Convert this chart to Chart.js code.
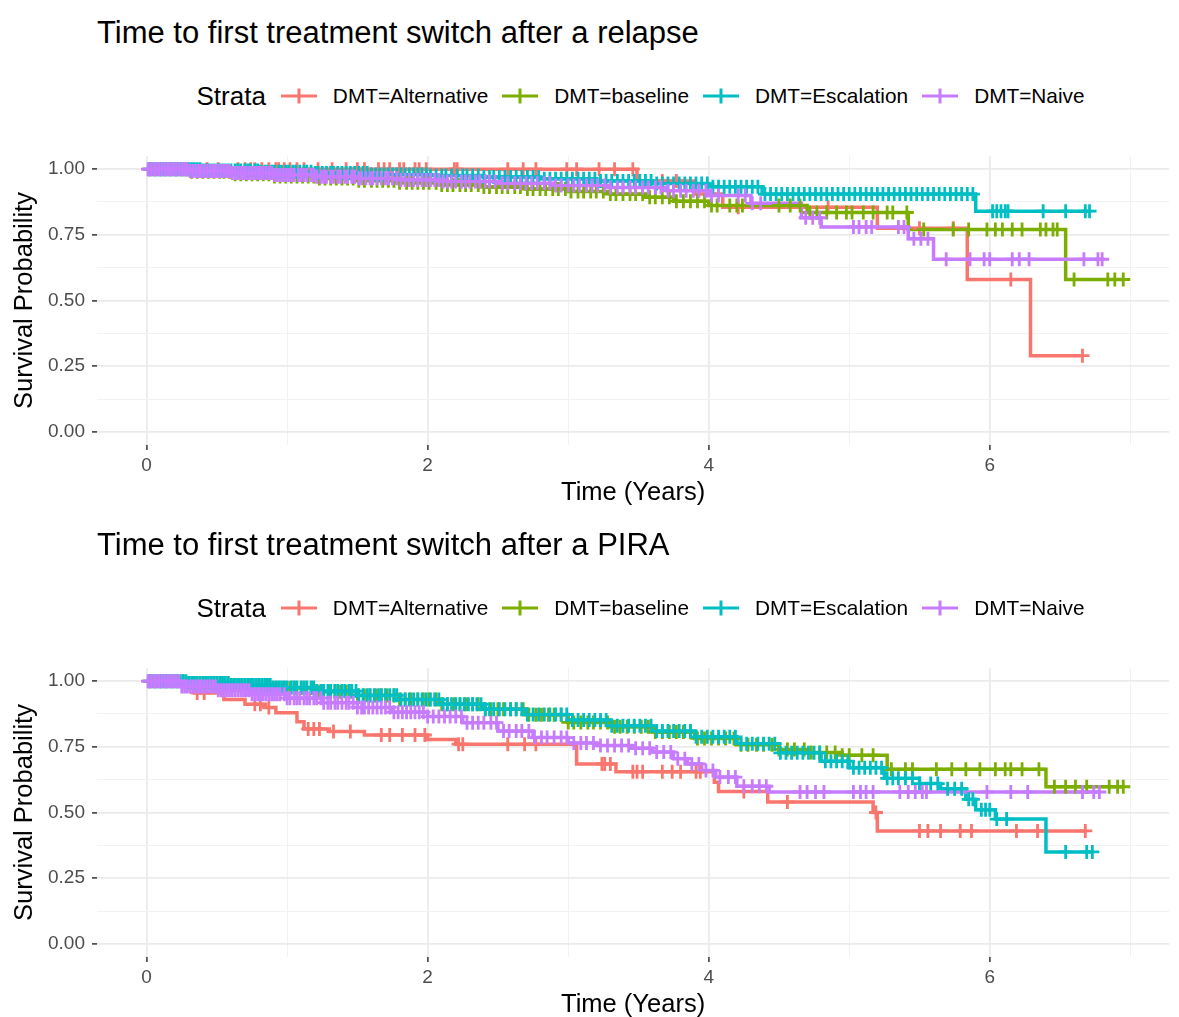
<!DOCTYPE html>
<html>
<head>
<meta charset="utf-8">
<title>Time to first treatment switch</title>
<script src="https://cdn.jsdelivr.net/npm/chart.js@4.4.1/dist/chart.umd.min.js"></script>
<style>
  body { margin: 0; background: #fff; font-family: "Liberation Sans", Arial, sans-serif; overflow: hidden; }
  .block { position: relative; width: 1179px; height: 512px; }
  .block canvas.plot { position: absolute; left: 0; top: 0; }
  .title { position: absolute; left: 97px; top: 17px; font-size: 31px; line-height: 31px; color: #000; white-space: nowrap; }
  .legend { position: absolute; left: 100px; width: 1081px; top: 80px; height: 32px; display: flex; justify-content: center; align-items: center; }
  .legend .lt { font-size: 26px; margin-right: 15px; color: #000; }
  .legend .sym { width: 36px; height: 20px; margin-right: 16px; }
  .legend .lab { font-size: 20.8px; margin-right: 14px; color: #000; white-space: nowrap; }
  .legend .lab:last-child { margin-right: 0; }
</style>
</head>
<body>
<div class="block">
  <div class="title">Time to first treatment switch after a relapse</div>
  <div class="legend" id="legend1"></div>
  <canvas class="plot" id="relapseChart" width="1179" height="512"></canvas>
</div>
<div class="block">
  <div class="title">Time to first treatment switch after a PIRA</div>
  <div class="legend" id="legend2"></div>
  <canvas class="plot" id="piraChart" width="1179" height="512"></canvas>
</div>
<script>
// strata and colours
const strata = ['DMT=Alternative', 'DMT=baseline', 'DMT=Escalation', 'DMT=Naive'];
const colors = ['#F8766D', '#7CAE00', '#00BFC4', '#C77CFF'];

// axis ticks
const xTicks = [0, 1, 2, 3, 4, 5, 6, 7];
const xTickLabels = ['0', '', '2', '', '4', '', '6', ''];
const yTicks = [0, 0.125, 0.25, 0.375, 0.5, 0.625, 0.75, 0.875, 1];
const yTickLabels = ['0.00', '', '0.25', '', '0.50', '', '0.75', '', '1.00'];

// ---- relapse: step times / survival, censor times ----
const relapseAltTime = [0, 3.49, 3.9, 4.1, 5.2, 5.84, 6.29, 6.66];
const relapseAltSurv = [1.0, 0.955, 0.905, 0.855, 0.775, 0.58, 0.29, 0.29];
const relapseAltCens = [0.21, 0.28, 0.43, 0.51, 0.65, 0.70, 0.74, 0.77, 0.82, 0.87, 0.92, 0.94, 0.98, 1.02, 1.07, 1.12, 1.22, 1.32, 1.42, 1.50, 1.55, 1.65, 1.69, 1.73, 1.80, 1.83, 1.91, 1.94, 1.99, 2.19, 2.21, 2.57, 2.68, 2.77, 2.99, 3.06, 3.22, 3.33, 3.46, 3.67, 3.77, 4.21, 4.85, 5.5, 5.74, 6.15, 6.66];

const relapseBaseTime = [0, 0.3, 0.6, 0.9, 1.2, 1.5, 1.8, 2.1, 2.4, 2.7, 3.0, 3.3, 3.55, 3.75, 4.0, 4.7, 5.42, 6.54, 6.95];
const relapseBaseSurv = [1.0, 0.99, 0.981, 0.972, 0.964, 0.956, 0.948, 0.94, 0.932, 0.924, 0.915, 0.905, 0.893, 0.878, 0.862, 0.835, 0.77, 0.58, 0.58];
const relapseBaseCens = [0.02, 0.06, 0.1, 0.13, 0.17, 0.21, 0.25, 0.29, 0.32, 0.36, 0.4, 0.44, 0.48, 0.52, 0.55, 0.59, 0.63, 0.67, 0.71, 0.75, 0.79, 0.83, 0.87, 0.91, 0.95, 0.99, 1.03, 1.07, 1.11, 1.15, 1.19, 1.23, 1.27, 1.31, 1.35, 1.39, 1.43, 1.47, 1.51, 1.55, 1.6, 1.64, 1.68, 1.72, 1.76, 1.8, 1.85, 1.89, 1.93, 1.97, 2.01, 2.06, 2.1, 2.14, 2.18, 2.23, 2.27, 2.31, 2.36, 2.4, 2.44, 2.49, 2.53, 2.57, 2.62, 2.66, 2.71, 2.75, 2.8, 2.84, 2.89, 2.93, 2.98, 3.02, 3.07, 3.11, 3.16, 3.2, 3.25, 3.3, 3.34, 3.39, 3.44, 3.48, 3.53, 3.58, 3.62, 3.67, 3.72, 3.77, 3.82, 3.87, 3.92, 3.97, 4.02, 4.06, 4.15, 4.2, 4.24, 4.5, 4.58, 4.65, 4.72, 4.77, 4.84, 4.91, 4.98, 5.02, 5.1, 5.17, 5.27, 5.31, 5.41, 5.53, 5.74, 5.85, 5.98, 6.04, 6.09, 6.16, 6.23, 6.36, 6.40, 6.45, 6.48, 6.60, 6.84, 6.89, 6.95];

const relapseEscTime = [0, 0.4, 0.8, 1.2, 1.6, 2.0, 2.4, 2.8, 3.2, 3.6, 4.0, 4.38, 5.9, 6.71];
const relapseEscSurv = [1.0, 0.995, 0.99, 0.985, 0.98, 0.976, 0.97, 0.963, 0.955, 0.945, 0.933, 0.905, 0.84, 0.84];
const relapseEscCens = [0.02, 0.04, 0.06, 0.08, 0.1, 0.12, 0.14, 0.16, 0.18, 0.2, 0.22, 0.24, 0.26, 0.28, 0.3, 0.32, 0.34, 0.36, 0.38, 0.4, 0.42, 0.44, 0.46, 0.48, 0.5, 0.52, 0.54, 0.56, 0.58, 0.6, 0.63, 0.65, 0.67, 0.7, 0.72, 0.74, 0.77, 0.79, 0.81, 0.84, 0.86, 0.89, 0.91, 0.94, 0.96, 0.99, 1.01, 1.04, 1.06, 1.09, 1.12, 1.14, 1.17, 1.2, 1.22, 1.25, 1.28, 1.31, 1.33, 1.36, 1.39, 1.42, 1.45, 1.48, 1.51, 1.54, 1.57, 1.6, 1.63, 1.66, 1.69, 1.72, 1.75, 1.78, 1.81, 1.84, 1.87, 1.9, 1.93, 1.96, 1.99, 2.02, 2.06, 2.1, 2.13, 2.17, 2.21, 2.25, 2.28, 2.32, 2.36, 2.4, 2.44, 2.47, 2.51, 2.55, 2.59, 2.63, 2.67, 2.71, 2.75, 2.79, 2.83, 2.87, 2.91, 2.95, 2.99, 3.03, 3.07, 3.11, 3.15, 3.19, 3.23, 3.27, 3.31, 3.35, 3.39, 3.43, 3.47, 3.51, 3.55, 3.59, 3.63, 3.67, 3.71, 3.75, 3.79, 3.83, 3.87, 3.91, 3.95, 3.99, 4.03, 4.07, 4.11, 4.15, 4.19, 4.23, 4.27, 4.31, 4.35, 4.4, 4.44, 4.48, 4.52, 4.56, 4.6, 4.64, 4.68, 4.72, 4.76, 4.8, 4.84, 4.88, 4.92, 4.96, 5.0, 5.04, 5.08, 5.12, 5.16, 5.2, 5.24, 5.28, 5.32, 5.36, 5.4, 5.44, 5.48, 5.52, 5.56, 5.6, 5.64, 5.68, 5.72, 5.76, 5.8, 5.84, 5.88, 6.02, 6.05, 6.08, 6.11, 6.13, 6.38, 6.54, 6.68, 6.71];

const relapseNaiveTime = [0, 0.3, 0.6, 0.9, 1.2, 1.5, 1.8, 2.1, 2.5, 2.9, 3.3, 3.7, 4.0, 4.3, 4.66, 4.8, 5.42, 5.6, 6.8];
const relapseNaiveSurv = [1.0, 0.993, 0.985, 0.978, 0.971, 0.965, 0.959, 0.953, 0.946, 0.938, 0.93, 0.918, 0.9, 0.87, 0.815, 0.78, 0.735, 0.657, 0.657];
const relapseNaiveCens = [0.01, 0.03, 0.05, 0.07, 0.09, 0.11, 0.13, 0.15, 0.17, 0.19, 0.21, 0.23, 0.25, 0.27, 0.29, 0.31, 0.33, 0.35, 0.37, 0.39, 0.41, 0.43, 0.45, 0.47, 0.49, 0.51, 0.53, 0.55, 0.57, 0.59, 0.61, 0.63, 0.65, 0.67, 0.69, 0.71, 0.73, 0.75, 0.77, 0.79, 0.81, 0.83, 0.85, 0.87, 0.89, 0.91, 0.93, 0.95, 0.97, 0.99, 1.01, 1.03, 1.05, 1.08, 1.1, 1.12, 1.14, 1.17, 1.19, 1.21, 1.24, 1.26, 1.28, 1.31, 1.33, 1.36, 1.38, 1.41, 1.43, 1.46, 1.48, 1.51, 1.53, 1.56, 1.59, 1.61, 1.64, 1.67, 1.7, 1.72, 1.75, 1.78, 1.81, 1.84, 1.87, 1.9, 1.93, 1.96, 1.99, 2.02, 2.05, 2.08, 2.11, 2.14, 2.17, 2.2, 2.24, 2.27, 2.3, 2.34, 2.37, 2.41, 2.44, 2.48, 2.53, 2.57, 2.62, 2.66, 2.7, 2.74, 2.78, 2.83, 2.87, 2.91, 2.95, 3.0, 3.04, 3.08, 3.13, 3.17, 3.21, 3.26, 3.3, 3.35, 3.39, 3.44, 3.48, 3.53, 3.57, 3.62, 3.66, 3.71, 3.75, 3.8, 3.84, 3.89, 3.93, 3.98, 4.02, 4.07, 4.21, 4.26, 4.31, 4.37, 4.69, 4.74, 4.79, 5.03, 5.07, 5.12, 5.16, 5.35, 5.39, 5.46, 5.51, 5.56, 5.69, 5.86, 5.96, 6.0, 6.16, 6.21, 6.28, 6.67, 6.77, 6.8];

// ---- PIRA: step times / survival, censor times ----
const piraAltTime = [0, 0.2, 0.34, 0.55, 0.7, 0.84, 0.92, 1.07, 1.12, 1.3, 1.55, 2.0, 2.2, 3.06, 3.34, 4.04, 4.07, 4.42, 5.17, 5.2, 6.68];
const piraAltSurv = [1.0, 0.985, 0.955, 0.93, 0.912, 0.9, 0.88, 0.845, 0.818, 0.808, 0.795, 0.778, 0.76, 0.685, 0.655, 0.615, 0.58, 0.54, 0.5, 0.43, 0.43];
const piraAltCens = [0.36, 0.41, 0.77, 0.81, 0.87, 1.15, 1.19, 1.23, 1.33, 1.45, 1.67, 1.73, 1.82, 1.91, 1.98, 2.22, 2.25, 2.57, 2.69, 2.77, 3.24, 3.26, 3.3, 3.46, 3.49, 3.53, 3.67, 3.74, 3.8, 3.91, 3.94, 4.25, 4.56, 5.19, 5.5, 5.56, 5.65, 5.79, 5.87, 6.19, 6.34, 6.68];

const piraBaseTime = [0, 0.3, 0.6, 0.9, 1.2, 1.5, 1.8, 2.1, 2.4, 2.7, 3.0, 3.3, 3.6, 3.9, 4.2, 4.5, 4.7, 4.95, 5.27, 6.4, 6.95];
const piraBaseSurv = [1.0, 0.992, 0.983, 0.974, 0.96, 0.945, 0.93, 0.912, 0.893, 0.872, 0.843, 0.826, 0.806, 0.782, 0.758, 0.74, 0.728, 0.718, 0.665, 0.598, 0.598];
const piraBaseCens = [0.02, 0.06, 0.1, 0.14, 0.18, 0.22, 0.26, 0.3, 0.34, 0.38, 0.42, 0.46, 0.5, 0.54, 0.58, 0.62, 0.66, 0.7, 0.74, 0.78, 0.82, 0.86, 0.9, 0.94, 0.98, 1.02, 1.06, 1.1, 1.14, 1.18, 1.22, 1.26, 1.3, 1.34, 1.38, 1.42, 1.46, 1.5, 1.55, 1.59, 1.63, 1.67, 1.71, 1.76, 1.8, 1.84, 1.88, 1.93, 1.97, 2.01, 2.06, 2.1, 2.14, 2.19, 2.23, 2.27, 2.32, 2.36, 2.41, 2.45, 2.5, 2.54, 2.59, 2.63, 2.68, 2.72, 2.77, 2.81, 2.86, 2.9, 2.95, 3.0, 3.04, 3.09, 3.14, 3.18, 3.23, 3.28, 3.33, 3.37, 3.42, 3.47, 3.52, 3.57, 3.62, 3.67, 3.72, 3.77, 3.82, 3.87, 3.92, 3.97, 4.02, 4.07, 4.12, 4.18, 4.23, 4.28, 4.34, 4.39, 4.45, 4.5, 4.56, 4.61, 4.68, 4.73, 4.79, 4.84, 4.9, 4.95, 5.0, 5.09, 5.17, 5.3, 5.4, 5.45, 5.62, 5.73, 5.83, 5.93, 6.04, 6.11, 6.15, 6.23, 6.35, 6.46, 6.54, 6.61, 6.69, 6.85, 6.91, 6.95];

const piraEscTime = [0, 0.3, 0.6, 0.9, 1.2, 1.5, 1.8, 2.1, 2.4, 2.7, 3.0, 3.3, 3.6, 3.9, 4.2, 4.5, 4.8, 5.0, 5.25, 5.5, 5.65, 5.83, 5.9, 6.04, 6.4, 6.73];
const piraEscSurv = [1.0, 0.993, 0.985, 0.976, 0.962, 0.946, 0.93, 0.912, 0.893, 0.873, 0.852, 0.83, 0.81, 0.788, 0.762, 0.727, 0.695, 0.67, 0.63, 0.61, 0.59, 0.55, 0.51, 0.475, 0.35, 0.35];
const piraEscCens = [0.02, 0.04, 0.06, 0.08, 0.1, 0.12, 0.14, 0.16, 0.18, 0.2, 0.22, 0.24, 0.26, 0.28, 0.3, 0.32, 0.34, 0.36, 0.38, 0.4, 0.42, 0.44, 0.46, 0.48, 0.5, 0.52, 0.54, 0.56, 0.58, 0.6, 0.62, 0.64, 0.66, 0.68, 0.7, 0.72, 0.74, 0.76, 0.78, 0.8, 0.82, 0.84, 0.86, 0.88, 0.9, 0.92, 0.94, 0.96, 0.98, 1.0, 1.03, 1.05, 1.07, 1.1, 1.12, 1.14, 1.17, 1.19, 1.21, 1.24, 1.26, 1.29, 1.31, 1.34, 1.36, 1.39, 1.41, 1.44, 1.46, 1.49, 1.51, 1.54, 1.57, 1.59, 1.62, 1.65, 1.67, 1.7, 1.73, 1.76, 1.78, 1.81, 1.84, 1.87, 1.9, 1.93, 1.96, 1.99, 2.02, 2.05, 2.08, 2.11, 2.14, 2.17, 2.2, 2.23, 2.26, 2.29, 2.32, 2.35, 2.38, 2.41, 2.44, 2.47, 2.51, 2.55, 2.59, 2.63, 2.67, 2.71, 2.75, 2.79, 2.83, 2.87, 2.91, 2.95, 2.99, 3.03, 3.07, 3.11, 3.15, 3.19, 3.23, 3.27, 3.31, 3.35, 3.39, 3.43, 3.47, 3.51, 3.55, 3.59, 3.63, 3.67, 3.71, 3.75, 3.79, 3.83, 3.87, 3.91, 3.95, 3.99, 4.03, 4.07, 4.11, 4.15, 4.19, 4.23, 4.27, 4.31, 4.35, 4.39, 4.43, 4.47, 4.51, 4.55, 4.59, 4.63, 4.67, 4.71, 4.75, 4.79, 4.83, 4.87, 4.91, 4.95, 4.99, 5.03, 5.07, 5.11, 5.15, 5.19, 5.23, 5.27, 5.31, 5.35, 5.4, 5.45, 5.5, 5.58, 5.63, 5.7, 5.75, 5.8, 5.85, 5.88, 5.94, 5.97, 6.0, 6.05, 6.12, 6.54, 6.69, 6.73];

const piraNaiveTime = [0, 0.25, 0.5, 0.75, 1.0, 1.25, 1.5, 1.75, 2.0, 2.25, 2.5, 2.75, 3.0, 3.2, 3.45, 3.6, 3.75, 3.85, 3.95, 4.05, 4.2, 4.43, 6.78];
const piraNaiveSurv = [1.0, 0.98, 0.965, 0.95, 0.935, 0.918, 0.9, 0.882, 0.865, 0.842, 0.81, 0.785, 0.765, 0.755, 0.745, 0.73, 0.705, 0.685, 0.66, 0.635, 0.6, 0.578, 0.578];
const piraNaiveCens = [0.01, 0.03, 0.05, 0.07, 0.09, 0.11, 0.13, 0.15, 0.17, 0.19, 0.21, 0.23, 0.25, 0.27, 0.29, 0.31, 0.33, 0.35, 0.37, 0.39, 0.41, 0.43, 0.45, 0.47, 0.49, 0.51, 0.53, 0.55, 0.57, 0.59, 0.61, 0.63, 0.65, 0.67, 0.69, 0.71, 0.73, 0.75, 0.77, 0.79, 0.81, 0.83, 0.85, 0.87, 0.89, 0.91, 0.93, 0.95, 0.98, 1.0, 1.02, 1.05, 1.07, 1.09, 1.12, 1.14, 1.16, 1.19, 1.21, 1.24, 1.26, 1.29, 1.31, 1.34, 1.36, 1.39, 1.42, 1.44, 1.47, 1.5, 1.53, 1.55, 1.58, 1.61, 1.64, 1.67, 1.7, 1.73, 1.76, 1.79, 1.82, 1.85, 1.88, 1.91, 1.94, 1.97, 2.0, 2.04, 2.08, 2.12, 2.16, 2.2, 2.24, 2.28, 2.32, 2.36, 2.4, 2.45, 2.49, 2.54, 2.58, 2.63, 2.67, 2.72, 2.76, 2.81, 2.85, 2.9, 2.95, 2.99, 3.04, 3.09, 3.13, 3.18, 3.23, 3.28, 3.33, 3.38, 3.43, 3.48, 3.53, 3.58, 3.63, 3.68, 3.73, 3.78, 3.83, 3.88, 3.93, 3.98, 4.03, 4.08, 4.14, 4.19, 4.25, 4.31, 4.36, 4.41, 4.65, 4.7, 4.76, 4.82, 5.03, 5.08, 5.12, 5.17, 5.36, 5.42, 5.47, 5.52, 5.55, 5.98, 6.15, 6.27, 6.66, 6.74, 6.78];

// survival at time x from a step curve (event before censoring at same time)
function survivalAt(times, surv, x) {
    let v = surv[0];
    for (let i = 0; i < times.length; i++) {
        if (times[i] <= x) v = surv[i];
    }
    return v;
}

function buildLegend(id) {
    const box = document.getElementById(id);
    const lt = document.createElement('span');
    lt.className = 'lt';
    lt.textContent = 'Strata';
    box.appendChild(lt);
    strata.forEach((name, i) => {
        const c = document.createElement('canvas');
        c.className = 'sym';
        c.width = 36; c.height = 20;
        const g = c.getContext('2d');
        g.strokeStyle = colors[i];
        g.lineWidth = 3;
        g.beginPath();
        g.moveTo(0, 10); g.lineTo(36, 10);
        g.moveTo(18, 2.5); g.lineTo(18, 17.5);
        g.stroke();
        box.appendChild(c);
        const lab = document.createElement('span');
        lab.className = 'lab';
        lab.textContent = name;
        box.appendChild(lab);
    });
}

function makeChart(canvasId, times, survs, cens) {
    const datasets = [];
    strata.forEach((name, i) => {
        datasets.push({
            label: name,
            data: times[i].map((t, j) => ({ x: t, y: survs[i][j] })),
            borderColor: colors[i],
            borderWidth: 3.5,
            pointRadius: 0,
            stepped: 'before',
            fill: false,
            order: 8 - i
        });
    });
    strata.forEach((name, i) => {
        datasets.push({
            label: name + ' (censored)',
            data: cens[i].map(t => ({ x: t, y: survivalAt(times[i], survs[i], t) })),
            showLine: false,
            pointStyle: 'cross',
            pointRadius: 7,
            pointHoverRadius: 7,
            pointBorderWidth: 2.8,
            borderColor: colors[i],
            backgroundColor: colors[i],
            order: 4 - i
        });
    });

    const isMajorX = ctx => xTickLabels[ctx.index] !== '';
    const isMajorY = ctx => yTickLabels[ctx.index] !== '';

    return new Chart(document.getElementById(canvasId).getContext('2d'), {
        type: 'line',
        data: { datasets: datasets },
        options: {
            responsive: false,
            animation: false,
            events: [],
            layout: { padding: { top: 156, right: 1, left: 0, bottom: 0 } },
            plugins: { legend: { display: false }, tooltip: { enabled: false }, title: { display: false } },
            scales: {
                x: {
                    type: 'linear',
                    min: -0.353,
                    max: 7.277,
                    afterBuildTicks: s => { s.ticks = xTicks.map(v => ({ value: v })); },
                    afterFit: s => { s.height = 67; },
                    ticks: {
                        callback: (v, i) => xTickLabels[i],
                        color: '#4d4d4d',
                        font: { family: 'Liberation Sans', size: 19 },
                        padding: 4,
                        maxRotation: 0,
                        autoSkip: false
                    },
                    grid: {
                        color: ctx => isMajorX(ctx) ? '#ebebeb' : '#f2f2f2',
                        lineWidth: ctx => isMajorX(ctx) ? 1.8 : 1,
                        tickColor: ctx => isMajorX(ctx) ? '#333333' : 'rgba(0,0,0,0)',
                        tickLength: 5,
                        tickWidth: 1.5
                    },
                    border: { display: false },
                    title: {
                        display: true,
                        text: 'Time (Years)',
                        color: '#000',
                        font: { family: 'Liberation Sans', size: 25.5 },
                        padding: { top: 0, bottom: 4 }
                    }
                },
                y: {
                    type: 'linear',
                    min: -0.05,
                    max: 1.05,
                    afterBuildTicks: s => { s.ticks = yTicks.map(v => ({ value: v })); },
                    afterFit: s => { s.width = 97; },
                    ticks: {
                        callback: (v, i) => yTickLabels[i],
                        color: '#4d4d4d',
                        font: { family: 'Liberation Sans', size: 19 },
                        padding: 7,
                        autoSkip: false
                    },
                    grid: {
                        color: ctx => isMajorY(ctx) ? '#ebebeb' : '#f2f2f2',
                        lineWidth: ctx => isMajorY(ctx) ? 1.8 : 1,
                        tickColor: ctx => isMajorY(ctx) ? '#333333' : 'rgba(0,0,0,0)',
                        tickLength: 5,
                        tickWidth: 1.5
                    },
                    border: { display: false },
                    title: {
                        display: true,
                        text: 'Survival Probability',
                        color: '#000',
                        font: { family: 'Liberation Sans', size: 25.5 },
                        padding: { top: 10, bottom: 0 }
                    }
                }
            }
        }
    });
}

buildLegend('legend1');
buildLegend('legend2');

makeChart('relapseChart',
    [relapseAltTime, relapseBaseTime, relapseEscTime, relapseNaiveTime],
    [relapseAltSurv, relapseBaseSurv, relapseEscSurv, relapseNaiveSurv],
    [relapseAltCens, relapseBaseCens, relapseEscCens, relapseNaiveCens]);

makeChart('piraChart',
    [piraAltTime, piraBaseTime, piraEscTime, piraNaiveTime],
    [piraAltSurv, piraBaseSurv, piraEscSurv, piraNaiveSurv],
    [piraAltCens, piraBaseCens, piraEscCens, piraNaiveCens]);
</script>
</body>
</html>
